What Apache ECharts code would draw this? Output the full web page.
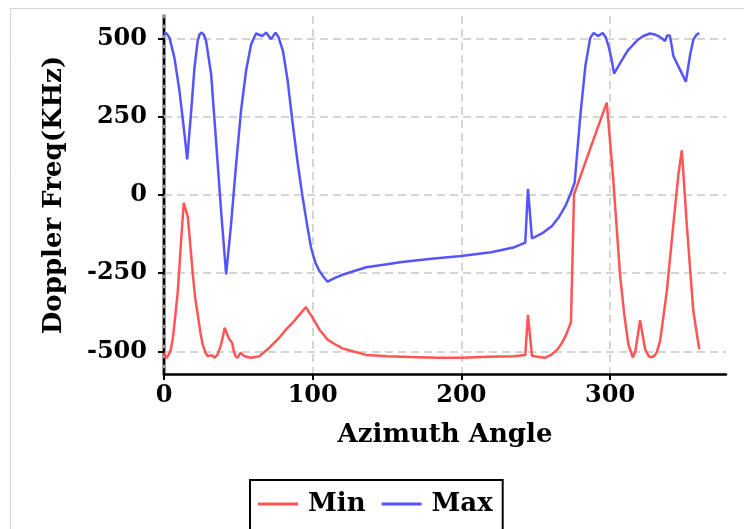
<!DOCTYPE html>
<html>
<head>
<meta charset="utf-8">
<script src="https://cdn.jsdelivr.net/npm/echarts@6/dist/echarts.min.js"></script>
<style>
  html, body { margin: 0; padding: 0; background: #fff; }
  #chart { width: 744px; height: 529px; }
</style>
</head>
<body>
<div id="chart"></div>
<script>
// ---- Data ----
const seriesNames = ['Min', 'Max'];
const xTicks = [0, 100, 200, 300];
const yTicks = [-500, -250, 0, 250, 500];

const minAngles = [0, 1.5, 3, 4.5, 6, 7.5, 9.3, 11.5, 13.3, 14.5, 16, 17.5, 19.4, 21, 22.7, 24.5, 26, 28, 29.5, 31, 32.4, 34, 36, 38.4, 40.9, 42.9, 44.5, 45.8, 47, 48, 49.6, 51.4, 54, 58.6, 64.2, 70.9, 77.6, 82, 86.6, 91, 95.5, 98, 100, 104.5, 110, 115, 120, 125, 136, 150, 165, 184.6, 200, 218, 235, 243, 244.8, 247.5, 252, 256.4, 260, 264.3, 267, 270, 273.7, 275.8, 286.5, 297.8, 302, 306.7, 309.5, 312.3, 315.3, 317, 320.2, 323.6, 326, 328, 330, 331.4, 333.7, 338.2, 342.6, 346, 348.3, 351.6, 356, 360];
const minValues = [-504, -521, -512, -495, -456, -390, -307, -147, -25, -45, -70, -150, -254, -330, -382, -440, -478, -505, -515, -513, -513, -520, -510, -478, -424, -451, -465, -472, -500, -515, -520, -504, -515, -520, -515, -488, -456, -430, -408, -383, -358, -378, -392, -430, -462, -477, -490, -497, -511, -515, -518, -520, -520, -517, -515, -511, -383, -514, -518, -520, -512, -495, -478, -452, -407, 2, 146, 295, 60, -253, -380, -477, -519, -500, -400, -493, -515, -519, -513, -503, -466, -307, -94, 66, 143, -94, -370, -493];

const maxAngles = [0, 1.5, 3.7, 7, 10.4, 13.8, 15.6, 18.3, 20.5, 22.7, 24, 25.4, 26.8, 28.3, 31.7, 35, 38.4, 41.8, 45.1, 48.5, 51.8, 55.2, 58.6, 61.9, 63, 66, 68.7, 72, 75, 77, 80, 83.2, 86.6, 89.9, 93.3, 96.2, 98.9, 101.8, 104.5, 107.4, 110, 115, 120, 128, 136, 150, 160, 180, 200, 220, 235, 243, 244.8, 247.5, 254.2, 261, 265.4, 270, 273.3, 276.2, 280, 283.4, 286.7, 289, 292, 295, 297, 299, 301, 302.7, 306, 309, 312, 315.7, 319, 322.4, 326.9, 330, 332.5, 335, 337, 338.5, 339.3, 340.2, 341, 342.6, 346.8, 351, 353.9, 356.1, 358, 360];
const maxValues = [519, 517, 503, 439, 333, 194, 114, 269, 407, 493, 514, 519, 512, 493, 386, 173, -51, -254, -94, 98, 269, 397, 482, 516, 519, 508, 519, 498, 519, 505, 460, 365, 226, 103, -9, -94, -168, -216, -243, -262, -277, -265, -255, -243, -231, -221, -214, -204, -195, -183, -168, -152, 20, -139, -123, -99, -72, -35, 2, 40, 252, 412, 502, 518, 508, 518, 505, 476, 435, 388, 415, 439, 462, 481, 497, 508, 516, 513, 508, 500, 492, 510, 515, 510, 490, 444, 403, 362, 449, 497, 511, 518];

const zip = (xs, ys) => xs.map((x, i) => [x, ys[i]]);

const FONT = 'DejaVu Serif';
const chart = echarts.init(document.getElementById('chart'), null, { renderer: 'canvas' });

chart.setOption({
  animation: false,
  backgroundColor: '#ffffff',
  color: ['#ff5555', '#5555ff'],
  graphic: [{
    type: 'rect',
    left: 8, top: 6,
    shape: { x: 0, y: 0, width: 760, height: 560 },
    style: { fill: 'none', stroke: '#aaaaaa', lineWidth: 1, lineDash: [1, 1] },
    silent: true, z: -10
  }],
  grid: { left: 164, right: 18, top: 16, bottom: 155, containLabel: false },
  legend: {
    data: seriesNames,
    left: 250, top: 480,
    icon: 'rect',
    itemWidth: 40, itemHeight: 3,
    itemGap: 16,
    padding: [11, 10, 24, 8],
    borderColor: '#000', borderWidth: 2, borderRadius: 0,
    textStyle: { fontFamily: FONT, fontWeight: 'bold', fontSize: 26, color: '#000', padding: [0, 0, 0, 5] }
  },
  xAxis: {
    type: 'value', min: 0, max: 378,
    name: 'Azimuth Angle', nameLocation: 'middle', nameGap: 48,
    nameTextStyle: { fontFamily: FONT, fontWeight: 'bold', fontSize: 26, color: '#000' },
    axisLine: { show: true, onZero: false, lineStyle: { color: '#000', width: 2.5 } },
    axisTick: { show: true, length: 6, customValues: xTicks, lineStyle: { color: '#000', width: 2 } },
    axisLabel: { customValues: xTicks, margin: 10, fontFamily: FONT, fontWeight: 'bold', fontSize: 24, color: '#000' },
    splitLine: { show: true, lineStyle: { color: '#c8c8c8', width: 1.5, type: [8, 5] } }
  },
  yAxis: [{
    type: 'value', min: -572, max: 572,
    name: 'Doppler Freq(KHz)', nameLocation: 'middle', nameGap: 97,
    nameTextStyle: { fontFamily: FONT, fontWeight: 'bold', fontSize: 26, color: '#000' },
    axisLine: { show: true, onZero: false, lineStyle: { color: '#000', width: 2, type: [5, 5] } },
    axisTick: { show: true, length: 6, customValues: yTicks, lineStyle: { color: '#000', width: 2 } },
    axisLabel: { customValues: yTicks, margin: 17, fontFamily: FONT, fontWeight: 'bold', fontSize: 24, color: '#000' },
    splitLine: { show: true, lineStyle: { color: '#c8c8c8', width: 1.5, type: [8, 5] } },
    z: 2
  }, {
    type: 'value', min: -572, max: 572, position: 'left', offset: 0,
    axisLine: { show: true, onZero: false, lineStyle: { color: '#999999', width: 4 } },
    axisTick: { show: false }, axisLabel: { show: false }, splitLine: { show: false },
    z: 0
  }],
  series: [{
    name: seriesNames[0], type: 'line', data: zip(minAngles, minValues),
    showSymbol: false, lineStyle: { width: 2.5, color: '#ff5555' }, itemStyle: { color: '#ff5555' }, z: 3
  }, {
    name: seriesNames[1], type: 'line', data: zip(maxAngles, maxValues),
    showSymbol: false, lineStyle: { width: 2.5, color: '#5555ff' }, itemStyle: { color: '#5555ff' }, z: 3
  }]
});
</script>
</body>
</html>
